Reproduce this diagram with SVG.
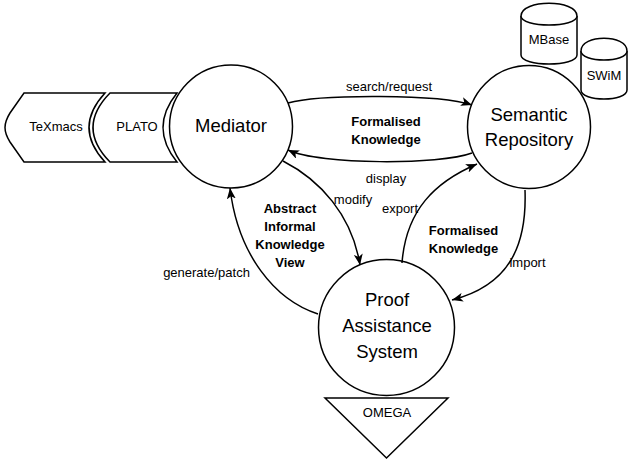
<svg xmlns="http://www.w3.org/2000/svg" width="628" height="462" viewBox="0 0 628 462">
<style>
  .shape { fill: #ffffff; stroke: #000000; stroke-width: 1.5; }
  .edge { fill: none; stroke: #000000; stroke-width: 1.5; marker-end: url(#arrow); }
  text { font-family: "Liberation Sans", Arial, sans-serif; fill: #000000; text-anchor: middle; }
  .big { font-size: 18.5px; }
  .small { font-size: 13px; }
  .bold { font-size: 13px; font-weight: bold; }
</style>
<defs>
  <marker id="arrow" viewBox="0 0 11 9" refX="11" refY="4.5" markerWidth="11" markerHeight="9" markerUnits="userSpaceOnUse" orient="auto">
    <path d="M0,0 L11,4.5 L0,9 L2.8,4.5 Z" fill="#000000"/>
  </marker>
</defs>
<rect x="0" y="0" width="628" height="462" fill="#ffffff"/>

<g id="node-texmacs">
  <path class="shape" d="M24,93 L105,93 Q73,127.5 105,162 L24,162 L10,142 Q5,134 5,127.5 Q5,121 10,113 Z"/>
  <text class="small" x="56" y="131">TeXmacs</text>
</g>
<g id="node-plato">
  <path class="shape" d="M110,93 L177,93 Q149,127.5 177,162 L110,162 Q76,127.5 110,93 Z"/>
  <text class="small" x="137" y="131">PLATO</text>
</g>
<g id="node-mediator">
  <circle class="shape" cx="231" cy="126.5" r="61.5"/>
  <text class="big" x="231" y="132">Mediator</text>
</g>
<g id="node-semantic">
  <circle class="shape" cx="529" cy="127" r="61.5"/>
  <text class="big" x="529" y="120.5">Semantic</text>
  <text class="big" x="529" y="146">Repository</text>
</g>
<g id="node-mbase">
  <path class="shape" d="M521,16 C521,-1 577,-1 577,16 L577,55 C577,67 521,67 521,55 Z"/>
  <path class="shape" d="M521,16 C521,28 577,28 577,16"/>
  <text class="small" x="549" y="44">MBase</text>
</g>
<g id="node-swim">
  <path class="shape" d="M581,51 C581,34 627,34 627,51 L627,90 C627,102 581,102 581,90 Z"/>
  <path class="shape" d="M581,51 C581,63 627,63 627,51"/>
  <text class="small" x="604" y="80">SWiM</text>
</g>
<g id="node-proof">
  <circle class="shape" cx="386.5" cy="327.5" r="68"/>
  <text class="big" x="387" y="306">Proof</text>
  <text class="big" x="387" y="332">Assistance</text>
  <text class="big" x="387" y="358">System</text>
</g>
<g id="node-omega">
  <path class="shape" d="M325,398 L448,398 L386.5,458 Z"/>
  <text class="small" x="387" y="417">OMEGA</text>
</g>

<g id="connectors">
  <path id="edge-search" class="edge" d="M288,103 C320,94 440,94 472,105"/>
  <path id="edge-display" class="edge" d="M472,153 C440,165 320,165 288,150"/>
  <path id="edge-modify" class="edge" d="M283,161 C320,180 352,215 360,265"/>
  <path id="edge-export" class="edge" d="M402,263 C406,210 435,182 477,164"/>
  <path id="edge-import" class="edge" d="M525,190 C527,245 510,285 452,300"/>
  <path id="edge-generate" class="edge" d="M318,314 C275,300 238,255 230,188"/>
</g>

<g id="edge-labels">
  <text class="small" x="389" y="91">search/request</text>
  <text class="bold" x="386" y="126">Formalised</text>
  <text class="bold" x="386" y="144">Knowledge</text>
  <text class="small" x="386" y="183">display</text>
  <text class="small" x="353" y="204">modify</text>
  <text class="small" x="400" y="213">export</text>
  <text class="bold" x="290" y="213">Abstract</text>
  <text class="bold" x="290" y="231">Informal</text>
  <text class="bold" x="290" y="249">Knowledge</text>
  <text class="bold" x="290" y="267">View</text>
  <text class="small" x="206.5" y="277">generate/patch</text>
  <text class="bold" x="463.5" y="235">Formalised</text>
  <text class="bold" x="463.5" y="253">Knowledge</text>
  <text class="small" x="527.5" y="267">import</text>
</g>
</svg>
